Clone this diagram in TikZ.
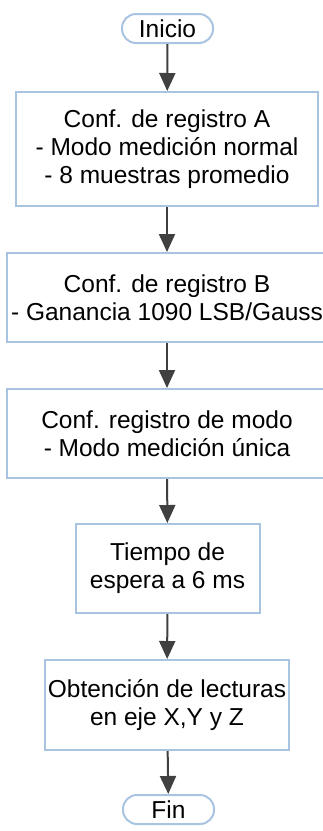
\documentclass[tikz,border=0pt]{standalone}
\usepackage{fontspec}
\setmainfont{Liberation Sans}
\usepackage{xcolor}
\usetikzlibrary{arrows.meta}

\definecolor{boxline}{RGB}{168,196,224}
\definecolor{arrowgray}{RGB}{64,64,64}

\begin{document}
\begin{tikzpicture}[x=1pt, y=-1pt,
    every node/.style={font=\fontsize{24.5}{28}\selectfont, align=center, inner sep=0pt},
    procbox/.style={draw=boxline, line width=2pt, fill=white, rectangle, minimum height=89pt},
    termbox/.style={draw=boxline, line width=2pt, fill=white, rectangle, rounded corners=14pt, minimum width=91pt, minimum height=29pt},
    flow/.style={-{Triangle[length=18pt, width=16pt]}, draw=arrowgray, fill=arrowgray, line width=2pt}]
    \useasboundingbox (0,0) rectangle (323,831);

    % Start and end
    \node[termbox] (inicio) at (167.5,28.5) {Inicio};
    \node[termbox] (fin) at (168.5,809.5) {Fin};

    % Register configuration
    \node[procbox, minimum width=302pt, minimum height=114pt] (rega) at (167,149) {Conf. de registro A\\- Modo medición normal\\- 8 muestras promedio};
    \node[procbox, minimum width=320pt] (regb) at (167,297.5) {Conf. de registro B\\- Ganancia 1090 LSB/Gauss};
    \node[procbox, minimum width=320pt] (regmodo) at (167,433.5) {Conf. registro de modo\\- Modo medición única};

    % Wait and read
    \node[procbox, minimum width=184pt] (espera) at (167.5,568.5) {Tiempo de\\espera a 6 ms};
    \node[procbox, minimum width=244pt, minimum height=90pt] (lectura) at (167,705) {Obtención de lecturas\\en eje X,Y y Z};

    % Connections
    \draw[flow] (inicio) -- (rega);
    \draw[flow] (rega) -- (regb);
    \draw[flow] (regb) -- (regmodo);
    \draw[flow] (regmodo) -- (espera);
    \draw[flow] (espera) -- (lectura);
    \draw[flow] (lectura) -- (fin);
\end{tikzpicture}
\end{document}
